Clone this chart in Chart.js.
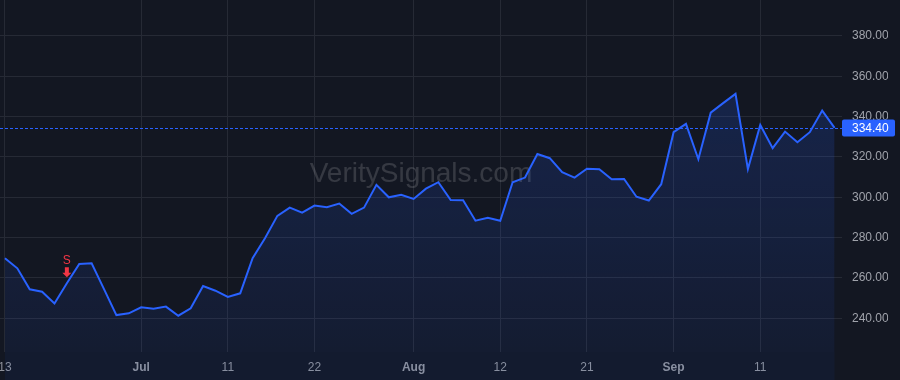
<!DOCTYPE html>
<html>
<head>
<meta charset="utf-8">
<script src="https://cdn.jsdelivr.net/npm/chart.js@4/dist/chart.umd.min.js"></script>
<style>
  html, body { margin: 0; padding: 0; background: #131722; }
  #wrap { width: 900px; height: 380px; position: relative; }
</style>
</head>
<body>
<div id="wrap"><canvas id="c"></canvas></div>
<script>
// ---- data ----
const values = [
  269.8, 264.8, 254.4, 253.2, 247.4, 257.4, 266.9, 267.3, 254.5, 241.6,
  242.5, 245.5, 244.8, 245.8, 241.3, 245.0, 256.0, 253.7, 250.6, 252.4,
  269.8, 279.7, 290.8, 294.9, 292.4, 295.9, 295.1, 296.9, 291.8, 294.9,
  306.2, 300.0, 301.3, 299.2, 304.3, 307.5, 298.7, 298.6, 288.4, 289.9,
  288.4, 307.5, 309.8, 321.5, 319.4, 312.5, 309.8, 314.2, 313.9, 309.0,
  309.1, 300.3, 298.4, 306.5, 332.3, 336.4, 318.9, 342.0, 346.7, 351.3,
  314.0, 335.9, 324.4, 332.6, 327.3, 332.3, 343.0, 334.4
];
const tickIdx    = [0, 11, 18, 25, 33, 40, 47, 54, 61];
const tickLabels = ['13', 'Jul', '11', '22', 'Aug', '12', '21', 'Sep', '11'];
const boldLabels = ['Jul', 'Aug', 'Sep'];
const signalIdx  = 5;
const signalText = 'S';
const watermark  = 'VeritySignals.com';

const FONT = "'Liberation Sans', Arial, sans-serif";
const LINE = '#2962ff';
const GRID = '#262a35';
const RED = '#f23645';

const points = values.map((v, i) => ({ x: i, y: v }));
const lastValue = values[values.length - 1];

const extras = {
  id: 'extras',
  beforeDatasetsDraw(chart) {
    const { ctx, chartArea, scales } = chart;
    const xs = scales.x;
    ctx.save();
    ctx.fillStyle = 'rgba(41,98,255,0.06)';
    const x0 = xs.getPixelForValue(0), x1 = xs.getPixelForValue(values.length - 1);
    ctx.fillRect(x0, chartArea.bottom, x1 - x0, chart.height - chartArea.bottom);
    ctx.font = '28px ' + FONT;
    ctx.fillStyle = 'rgba(255,255,255,0.15)';
    ctx.textAlign = 'center';
    ctx.textBaseline = 'alphabetic';
    ctx.fillText(watermark, (chartArea.left + chartArea.right) / 2, chartArea.top + chartArea.height * 0.517);
    ctx.restore();
  },
  afterDatasetsDraw(chart) {
    const { ctx, chartArea, scales } = chart;
    const xs = scales.x, ys = scales.y;
    const py = Math.round(ys.getPixelForValue(lastValue)) + 0.5;
    ctx.save();
    ctx.strokeStyle = LINE;
    ctx.lineWidth = 1;
    ctx.setLineDash([3, 2]);
    ctx.beginPath();
    ctx.moveTo(chartArea.left, py);
    ctx.lineTo(chartArea.right, py);
    ctx.stroke();
    ctx.restore();
    const sx = xs.getPixelForValue(signalIdx);
    const sy = ys.getPixelForValue(values[signalIdx]);
    ctx.save();
    ctx.fillStyle = RED;
    const tip = sy - 6;
    ctx.beginPath();
    ctx.moveTo(sx, tip);
    ctx.lineTo(sx - 4.5, tip - 4.5);
    ctx.lineTo(sx - 2, tip - 4.5);
    ctx.lineTo(sx - 2, tip - 10);
    ctx.lineTo(sx + 2, tip - 10);
    ctx.lineTo(sx + 2, tip - 4.5);
    ctx.lineTo(sx + 4.5, tip - 4.5);
    ctx.closePath();
    ctx.fill();
    ctx.font = '12px ' + FONT;
    ctx.textAlign = 'center';
    ctx.textBaseline = 'middle';
    ctx.fillText(signalText, sx, sy - 23);
    ctx.restore();
  },
  afterDraw(chart) {
    const { ctx, chartArea, scales } = chart;
    const ys = scales.y;
    const py = ys.getPixelForValue(lastValue);
    ctx.save();
    ctx.fillStyle = LINE;
    const bx = chartArea.right, bw = 53, bh = 17;
    ctx.beginPath();
    if (ctx.roundRect) ctx.roundRect(bx, py - bh / 2, bw, bh, 2); else ctx.rect(bx, py - bh / 2, bw, bh);
    ctx.fill();
    ctx.fillStyle = '#ffffff';
    ctx.font = '12px ' + FONT;
    ctx.textAlign = 'left';
    ctx.textBaseline = 'middle';
    ctx.fillText(lastValue.toFixed(2), ys.left + 10, py + 0.5);
    ctx.restore();
  }
};

new Chart(document.getElementById('c'), {
  type: 'line',
  data: {
    datasets: [{
      data: points,
      borderColor: LINE,
      borderWidth: 2,
      pointRadius: 0,
      tension: 0,
      fill: 'start',
      backgroundColor: (c) => {
        const ca = c.chart.chartArea;
        if (!ca) return 'rgba(41,98,255,0.1)';
        const g = c.chart.ctx.createLinearGradient(0, ca.top, 0, ca.bottom);
        g.addColorStop(0, 'rgba(41,98,255,0.22)');
        g.addColorStop(1, 'rgba(41,98,255,0.07)');
        return g;
      }
    }]
  },
  options: {
    responsive: true,
    maintainAspectRatio: false,
    animation: false,
    devicePixelRatio: 1,
    layout: { padding: { left: 0, right: 12, top: 0, bottom: 0 } },
    plugins: { legend: { display: false }, tooltip: { enabled: false } },
    scales: {
      x: {
        type: 'linear',
        min: -0.4,
        max: values.length - 0.4,
        afterBuildTicks: (axis) => { axis.ticks = tickIdx.map(v => ({ value: v })); },
        afterFit: (axis) => { axis.paddingLeft = 0; axis.paddingRight = 0; axis.height = 28; },
        grid: { color: GRID, drawTicks: false },
        border: { display: false },
        ticks: {
          autoSkip: false,
          maxRotation: 0,
          padding: 8,
          color: '#8f929b',
          callback: (v) => { const k = tickIdx.indexOf(v); return k >= 0 ? tickLabels[k] : ''; },
          font: (c) => ({
            family: FONT, size: 12,
            weight: (c.tick && boldLabels.includes(c.tick.label)) ? 'bold' : 'normal'
          })
        }
      },
      y: {
        position: 'right',
        min: 223.3,
        max: 397.85,
        afterFit: (axis) => { axis.paddingTop = 0; axis.paddingBottom = 0; axis.width = 46; },
        grid: { color: GRID, drawTicks: false },
        border: { display: false },
        ticks: {
          stepSize: 20,
          includeBounds: false,
          padding: 10,
          color: '#a0a3ab',
          font: { family: FONT, size: 12 },
          callback: (v) => Number(v).toFixed(2)
        }
      }
    }
  },
  plugins: [extras]
});
</script>
</body>
</html>
